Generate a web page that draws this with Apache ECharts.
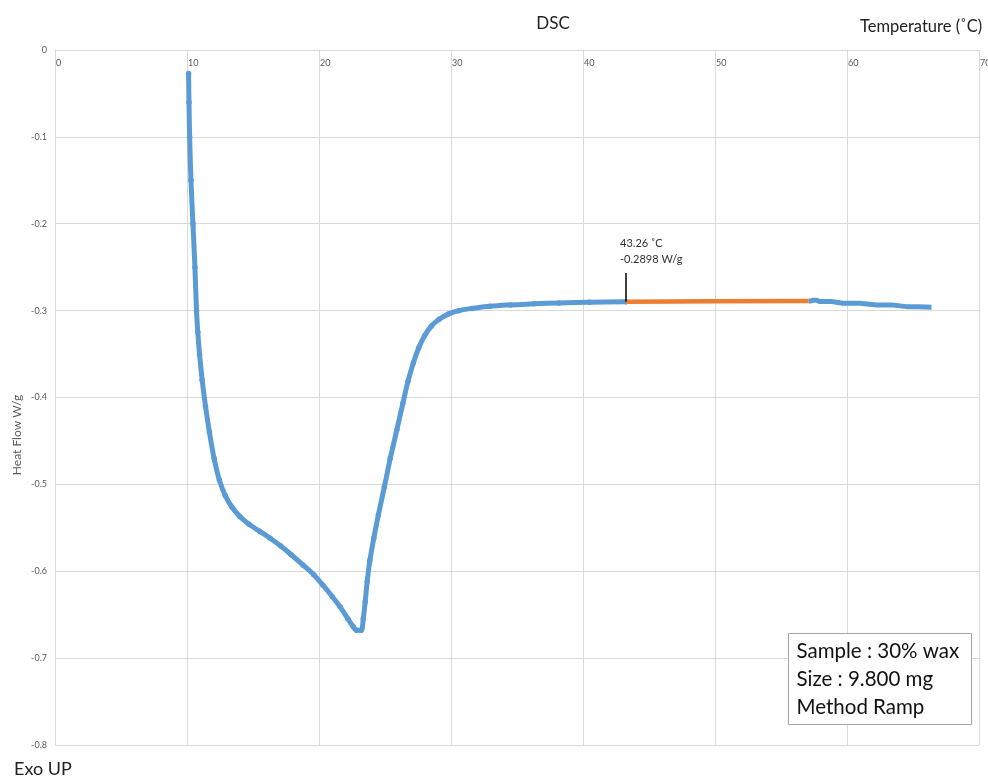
<!DOCTYPE html>
<html>
<head>
<meta charset="utf-8">
<script src="https://cdn.jsdelivr.net/npm/echarts@6/dist/echarts.min.js"></script>
<style>
  html, body { margin: 0; padding: 0; background: #fff; }
  #chart { width: 988px; height: 779px; }
</style>
</head>
<body>
<div id="chart"></div>
<script>
// Heating scan up to the onset point (temperature °C, heat flow W/g)
const scanTemp = [10.12, 10.15, 10.2, 10.3, 10.45, 10.6, 10.72, 10.82, 10.95, 11.15, 11.4, 11.7, 12.05, 12.45, 12.9, 13.4, 14.0, 14.7, 15.5, 16.3, 17.1, 17.9, 18.8, 19.6, 20.3, 21.0, 21.6, 22.2, 22.6, 22.85, 23.2, 23.35, 23.5, 23.65, 23.85, 24.15, 24.5, 24.95, 25.4, 25.9, 26.35, 26.75, 27.15, 27.55, 28.0, 28.5, 29.1, 29.8, 30.6, 31.6, 32.95, 34.5, 36.3, 38.2, 40.5, 43.26];
const scanHeat = [-0.027, -0.06, -0.10, -0.15, -0.20, -0.25, -0.30, -0.325, -0.35, -0.38, -0.41, -0.44, -0.47, -0.495, -0.513, -0.526, -0.537, -0.546, -0.554, -0.562, -0.571, -0.581, -0.593, -0.604, -0.616, -0.629, -0.641, -0.655, -0.664, -0.668, -0.668, -0.655, -0.635, -0.612, -0.588, -0.562, -0.535, -0.503, -0.470, -0.437, -0.407, -0.381, -0.360, -0.343, -0.329, -0.318, -0.310, -0.304, -0.300, -0.2975, -0.2950, -0.2935, -0.2922, -0.2911, -0.2903, -0.2898];

// Highlighted baseline range
const rangeTemp = [43.26, 50.0, 57.1];
const rangeHeat = [-0.2898, -0.2893, -0.2888];

// Remainder of the scan
const tailTemp = [57.1, 57.45, 57.95, 59.7, 62.25, 64.5, 66.4];
const tailHeat = [-0.2888, -0.2880, -0.2896, -0.2915, -0.2934, -0.2954, -0.2960];

// Onset annotation
const onsetTemp = 43.26;
const onsetHeat = -0.2898;
const onsetLeaderTop = -0.2566;

// Axis ticks
const tempTicks = { min: 0, max: 70, step: 10 };
const heatTicks = { min: -0.8, max: 0, step: 0.1 };

const sampleInfo = ['Sample : 30% wax', 'Size : 9.800 mg', 'Method Ramp'];

const pairs = (xs, ys) => xs.map((x, i) => [x, ys[i]]);

const blue = '#5B9BD5';
const orange = '#ED7D31';
const grid = '#d9d9d9';
const axisText = '#595959';
const font = 'Lato, "Open Sans", sans-serif';

const chart = echarts.init(document.getElementById('chart'), null, { renderer: 'canvas' });

chart.setOption({
  backgroundColor: '#ffffff',
  animation: false,
  title: {
    text: 'DSC',
    left: 548,
    top: 10,
    textAlign: 'center',
    textStyle: { fontFamily: font, fontSize: 17, fontWeight: 'normal', color: '#222' }
  },
  grid: { left: 55, right: 9, top: 50, bottom: 34, containLabel: false, outerBoundsMode: 'none' },
  xAxis: {
    type: 'value',
    position: 'top',
    min: tempTicks.min,
    max: tempTicks.max,
    interval: tempTicks.step,
    axisLine: { show: true, lineStyle: { color: grid, width: 1 } },
    axisTick: { show: false },
    axisLabel: {
      inside: true,
      align: 'left',
      margin: 9,
      fontSize: 9,
      fontFamily: font,
      color: axisText,
      padding: [0, 0, 0, 1],
      hideOverlap: false
    },
    splitLine: { show: true, lineStyle: { color: grid, width: 1 } }
  },
  yAxis: {
    type: 'value',
    min: heatTicks.min,
    max: heatTicks.max,
    interval: heatTicks.step,
    axisLine: { show: true, lineStyle: { color: grid, width: 1 } },
    axisTick: { show: false },
    axisLabel: {
      margin: 8,
      fontSize: 9,
      fontFamily: font,
      color: axisText,
      formatter: v => (Math.abs(v) < 1e-9 ? '0' : v.toFixed(1))
    },
    splitLine: { show: true, lineStyle: { color: grid, width: 1 } }
  },
  series: [
    {
      type: 'line',
      name: 'scan',
      data: pairs(scanTemp, scanHeat),
      smooth: 0.3,
      symbol: 'circle',
      symbolSize: 5.5,
      showSymbol: true,
      itemStyle: { color: blue },
      lineStyle: { color: blue, width: 5 },
      z: 2
    },
    {
      type: 'line',
      name: 'tail',
      data: pairs(tailTemp, tailHeat),
      step: 'middle',
      symbol: 'none',
      lineStyle: { color: blue, width: 5 },
      z: 2
    },
    {
      type: 'line',
      name: 'range',
      data: pairs(rangeTemp, rangeHeat),
      symbol: 'none',
      lineStyle: { color: orange, width: 4.5 },
      z: 3,
      markLine: {
        silent: true,
        symbol: ['none', 'none'],
        lineStyle: { color: '#000', width: 1.5, type: 'solid' },
        label: {
          show: true,
          position: 'end',
          align: 'left',
          offset: [-6, 0],
          fontSize: 11,
          lineHeight: 16,
          fontFamily: font,
          color: '#333',
          formatter: () => onsetTemp.toFixed(2) + ' ˚C\n' + onsetHeat.toFixed(4) + ' W/g'
        },
        data: [[
          { coord: [onsetTemp, onsetHeat] },
          { coord: [onsetTemp, onsetLeaderTop] }
        ]]
      }
    }
  ],
  graphic: [
    {
      type: 'text',
      left: 860,
      top: 18,
      style: { text: 'Temperature (˚C)', fontFamily: font, fontSize: 16.5, fill: '#222' }
    },
    {
      type: 'text',
      x: 17,
      y: 435,
      rotation: Math.PI / 2,
      style: {
        text: 'Heat Flow W/g',
        fontFamily: font,
        fontSize: 12,
        fill: axisText,
        align: 'center',
        verticalAlign: 'middle'
      }
    },
    {
      type: 'text',
      left: 14,
      top: 760,
      style: { text: 'Exo UP', fontFamily: font, fontSize: 18, fill: '#222' }
    },
    {
      type: 'group',
      left: 788,
      top: 633,
      z: 100,
      children: [
        {
          type: 'rect',
          z: 100,
          shape: { x: 0, y: 0, width: 183, height: 91 },
          style: { fill: '#fff', stroke: '#a6a6a6', lineWidth: 1 }
        },
        ...sampleInfo.map((line, i) => ({
          type: 'text',
          z: 101,
          x: 8,
          y: 18 + i * 28,
          style: {
            text: line,
            fontFamily: font,
            fontSize: 20.5,
            fill: '#111',
            verticalAlign: 'middle'
          }
        }))
      ]
    }
  ]
});
</script>
</body>
</html>
